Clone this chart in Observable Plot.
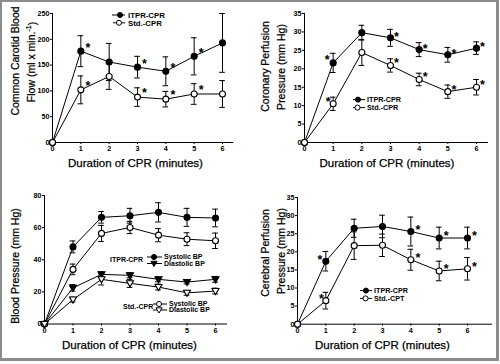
<!DOCTYPE html>
<html><head><meta charset="utf-8">
<script src="https://cdn.jsdelivr.net/npm/d3@7"></script>
<script src="https://cdn.jsdelivr.net/npm/@observablehq/plot@0.6"></script>
<style>
body{margin:0;background:#fff;}
#wrap{position:relative;width:500px;height:364px;overflow:hidden;background:#fff;font-family:"Liberation Sans",Arial,sans-serif;}
#frame{position:absolute;left:0;top:0;width:494px;height:356px;border:2px solid #8c8c8c;border-right-width:3px;border-bottom-width:3px;}
.panel{position:absolute;}
</style></head><body><div id="wrap"><div id="frame"></div></div>
<script>
const minutes = [0, 1, 2, 3, 4, 5, 6];

// Panel A: Common carotid blood flow (ml x min^-1)
const flowITPR    = [0, 177, 156, 146, 138, 167, 193];
const flowITPRErr = [0, 30, 36, 21, 28, 36, 57];
const flowStd     = [0, 102, 128, 88, 84, 94, 94];
const flowStdErr  = [0, 27, 25, 18, 15, 20, 26];
const flowITPRStarsRight = [1, 3, 4, 5];
const flowStdStarsRight  = [1, 3, 4, 5];
const flowTicks = [0, 50, 100, 150, 200, 250];

// Panel B: Coronary perfusion pressure (mm Hg)
const corITPR    = [0, 21.6, 29.8, 28.4, 25.2, 23.8, 25.6];
const corITPRErr = [0, 2.6, 2.0, 2.3, 1.9, 2.0, 1.7];
const corStd     = [0, 10.5, 24.4, 20.9, 17.1, 13.8, 15.0];
const corStdErr  = [0, 1.8, 3.5, 1.8, 1.7, 1.8, 2.1];
const corITPRStarsLeft = [1], corITPRStarsRight = [3, 4, 5, 6];
const corStdStarsLeft  = [1], corStdStarsRight  = [3, 4, 5, 6];
const pressTicks35 = [0, 5, 10, 15, 20, 25, 30, 35];

// Panel C: Blood pressure (mm Hg)
const sysITPR    = [0, 48, 66.4, 67.4, 69.5, 66.4, 66];
const sysITPRErr = [0, 3.7, 3.6, 4.6, 6, 5.6, 5.5];
const diaITPR    = [0, 22.5, 30.9, 30.3, 27.8, 26.1, 27.8];
const diaITPRErr = [0, 2, 1.5, 1.5, 1.5, 1.2, 1.8];
const sysStd     = [0, 34, 56.4, 60.1, 55.3, 52.8, 51.8];
const sysStdErr  = [0, 3.3, 5, 3.8, 4.1, 4, 4.8];
const diaStd     = [0, 15.2, 27.8, 25.3, 23, 19.4, 20.5];
const diaStdErr  = [0, 1.5, 3.5, 2.5, 1.8, 1.5, 1.8];
const bpTicks = [0, 20, 40, 60, 80];

// Panel D: Cerebral perfusion pressure (mm Hg)
const cerITPR    = [0, 17.4, 26.5, 27, 25.6, 23.8, 23.8];
const cerITPRErr = [0, 2.7, 2.5, 3.1, 4, 3, 3];
const cerStd     = [0, 6.5, 21.7, 21.8, 17.8, 14.7, 15.3];
const cerStdErr  = [0, 2.3, 3.8, 3.1, 2.9, 2.7, 3.1];
const cerITPRStarsLeft = [1], cerITPRStarsRight = [4, 5, 6];
const cerStdStarsLeft  = [1], cerStdStarsRight  = [4, 5, 6];

const xTitle = "Duration of CPR (minutes)";

const triDown = {
  draw(ctx, size) {
    const h = Math.sqrt(size) * 1.0;
    ctx.moveTo(0, h * 0.62);
    ctx.lineTo(-h * 0.62, -h * 0.45);
    ctx.lineTo(h * 0.62, -h * 0.45);
    ctx.closePath();
  }
};

function rows(vals, errs) {
  return minutes.map((m, i) => ({x: m, y: vals[i], lo: vals[i] - errs[i], hi: vals[i] + errs[i], e: errs[i]}));
}
function starRows(list, vals) {
  return list.map(m => ({x: m, y: vals[minutes.indexOf(m)]}));
}

function seriesMarks(s) {
  const d = rows(s.vals, s.errs);
  const eb = d.filter(r => r.e > 0);
  return [
    Plot.ruleX(eb, {x: "x", y1: "lo", y2: "hi", stroke: "black", strokeWidth: 1}),
    Plot.ruleY(eb, {y: "hi", x1: r => r.x - 0.1, x2: r => r.x + 0.1, stroke: "black", strokeWidth: 1}),
    Plot.ruleY(eb, {y: "lo", x1: r => r.x - 0.1, x2: r => r.x + 0.1, stroke: "black", strokeWidth: 1}),
    Plot.line(d, {x: "x", y: "y", stroke: "black", strokeWidth: 1})
  ];
}
function dotMarks(s) {
  const d = rows(s.vals, s.errs);
  return Plot.dot(d, {x: "x", y: "y", r: s.sym === "tri" ? 3.2 : 3, symbol: s.sym === "tri" ? triDown : "circle",
    fill: s.filled ? "black" : "white", stroke: "black", strokeWidth: 1.1});
}
function starMarks(list, vals, dx, dy) {
  return Plot.text(starRows(list, vals), {x: "x", y: "y", text: () => "*", dx, dy,
    fontSize: 12.5, fontWeight: "bold", fill: "black", lineAnchor: "middle"});
}

function panel(cfg) {
  const unit = (cfg.x6 - cfg.mL) / 6;
  const right = cfg.x6 + (cfg.xMax - 6) * unit;
  const marks = [];
  cfg.series.forEach(s => marks.push(...seriesMarks(s)));
  marks.push(Plot.ruleY([0], {stroke: "black", strokeWidth: 1}));
  marks.push(Plot.ruleX([0], {stroke: "black", strokeWidth: 1}));
  cfg.series.forEach(s => marks.push(dotMarks(s)));
  (cfg.stars || []).forEach(st => marks.push(starMarks(st.list, st.vals, st.dx, st.dy)));
  const chart = Plot.plot({
    width: 250, height: 182,
    marginLeft: cfg.mL, marginRight: 250 - right, marginTop: cfg.mT, marginBottom: cfg.mB,
    style: {fontFamily: '"Liberation Sans", Arial, sans-serif', fontSize: "7.2px", fontWeight: "bold", background: "transparent", color: "black", overflow: "visible"},
    x: {domain: [0, cfg.xMax], ticks: minutes, tickFormat: d => String(d), tickSize: 2, tickPadding: 1.5, label: null, line: false},
    y: {domain: cfg.yDomain, ticks: cfg.yTicks, tickFormat: d => String(d), tickSize: 2, tickPadding: 1, label: null},
    marks
  });
  chart.classList.add("panel");
  chart.style.left = cfg.left + "px";
  chart.style.top = cfg.top + "px";
  const svg = d3.select(chart);
  const ff = '"Liberation Sans", Arial, sans-serif';
  // x title
  svg.append("text").attr("x", cfg.xt[0]).attr("y", cfg.xt[1]).attr("text-anchor", "middle")
    .attr("font-family", ff).attr("font-size", "11.5px").attr("font-weight", "normal").attr("fill", "black")
    .attr("stroke", "black").attr("stroke-width", 0.25).text(xTitle);
  // y title lines
  cfg.yt.forEach(t => {
    const tx = svg.append("text").attr("transform", `translate(${t.x},${t.y}) rotate(-90)`)
      .attr("dy", "0.35em").attr("text-anchor", "middle").attr("font-family", ff)
      .attr("font-size", "10.5px").attr("font-weight", "normal").attr("fill", "black")
      .attr("stroke", "black").attr("stroke-width", 0.25);
    if (t.sup) {
      tx.append("tspan").text(t.text);
      tx.append("tspan").attr("font-size", "7px").attr("dy", "-0.5em").text(t.sup);
      tx.append("tspan").attr("dy", "0.5em").text(t.after);
    } else tx.text(t.text);
  });
  // legend
  const lf = cfg.legendFont + "px";
  (cfg.legend || []).forEach(l => {
    if (l.label) {
      svg.append("text").attr("x", l.x).attr("y", l.y).attr("dy", "0.35em").attr("text-anchor", "start").attr("font-family", ff)
        .attr("font-size", lf).attr("font-weight", "bold").attr("fill", "black").text(l.label);
      return;
    }
    svg.append("line").attr("x1", l.x1).attr("x2", l.x2).attr("y1", l.y).attr("y2", l.y).attr("stroke", "black").attr("stroke-width", 1);
    const sym = d3.symbol().type(l.sym === "tri" ? triDown : d3.symbolCircle).size(l.sym === "tri" ? 24 : 20)();
    svg.append("path").attr("d", sym).attr("transform", `translate(${l.xm},${l.y})`)
      .attr("fill", l.filled ? "black" : "white").attr("stroke", "black").attr("stroke-width", 1);
    svg.append("text").attr("x", l.tx).attr("y", l.y).attr("dy", "0.35em").attr("text-anchor", "start").attr("font-family", ff)
      .attr("font-size", lf).attr("font-weight", "bold").attr("fill", "black").text(l.text);
  });
  document.getElementById("wrap").appendChild(chart);
}

// Panel A
panel({
  left: 0, top: 0, mL: 52, x6: 222, xMax: 6.4, mT: 13, mB: 40,
  yDomain: [0, 250], yTicks: flowTicks,
  series: [
    {vals: flowITPR, errs: flowITPRErr, sym: "circle", filled: true},
    {vals: flowStd, errs: flowStdErr, sym: "circle", filled: false}
  ],
  stars: [
    {list: flowITPRStarsRight, vals: flowITPR, dx: 7, dy: -3.5},
    {list: flowStdStarsRight, vals: flowStd, dx: 7, dy: -4}
  ],
  xt: [135.5, 167],
  yt: [{x: 15, y: 61, text: "Common Carotid Blood"}, {x: 31, y: 62, text: "Flow (ml x min.", sup: "-1", after: ")"}],
  legendFont: 7.8,
  legend: [
    {x1: 112, x2: 125, xm: 120, y: 15, sym: "circle", filled: true, tx: 128, text: "ITPR-CPR"},
    {x1: 113, x2: 125, xm: 119, y: 22.8, sym: "circle", filled: false, tx: 128, text: "Std.-CPR"}
  ]
});

// Panel B
panel({
  left: 250, top: 0, mL: 54, x6: 226, xMax: 6.42, mT: 13, mB: 40,
  yDomain: [0, 35], yTicks: pressTicks35,
  series: [
    {vals: corITPR, errs: corITPRErr, sym: "circle", filled: true},
    {vals: corStd, errs: corStdErr, sym: "circle", filled: false}
  ],
  stars: [
    {list: corITPRStarsLeft, vals: corITPR, dx: -6, dy: -3},
    {list: corITPRStarsRight, vals: corITPR, dx: 6, dy: -1},
    {list: corStdStarsLeft, vals: corStd, dx: -5, dy: -2},
    {list: corStdStarsRight, vals: corStd, dx: 6, dy: -2}
  ],
  xt: [137, 167],
  yt: [{x: 15, y: 66.5, text: "Coronary Perfusion"}, {x: 31, y: 67, text: "Pressure (mm Hg)"}],
  legendFont: 7.2,
  legend: [
    {x1: 103, x2: 115, xm: 108, y: 99.6, sym: "circle", filled: true, tx: 117, text: "ITPR-CPR"},
    {x1: 103, x2: 115, xm: 107.5, y: 107.6, sym: "circle", filled: false, tx: 117, text: "Std.-CPR"}
  ]
});

// Panel C
panel({
  left: 0, top: 182, mL: 44, x6: 215, xMax: 6.42, mT: 13, mB: 40.5,
  yDomain: [0, 80], yTicks: bpTicks,
  series: [
    {vals: sysITPR, errs: sysITPRErr, sym: "circle", filled: true},
    {vals: diaITPR, errs: diaITPRErr, sym: "tri", filled: true},
    {vals: sysStd, errs: sysStdErr, sym: "circle", filled: false},
    {vals: diaStd, errs: diaStdErr, sym: "tri", filled: false}
  ],
  stars: [],
  xt: [129.5, 167],
  yt: [{x: 15, y: 84, text: "Blood Pressure (mm Hg)"}],
  legendFont: 7,
  legend: [
    {label: "ITPR-CPR", x: 110, y: 78},
    {x1: 147, x2: 162, xm: 154, y: 75, sym: "circle", filled: true, tx: 164, text: "Systolic BP"},
    {x1: 147, x2: 162, xm: 154, y: 81.5, sym: "tri", filled: true, tx: 164, text: "Diastolic BP"},
    {label: "Std.-CPR", x: 123, y: 125},
    {x1: 153, x2: 167, xm: 159, y: 122, sym: "circle", filled: false, tx: 169, text: "Systolic BP"},
    {x1: 153, x2: 167, xm: 159, y: 128, sym: "tri", filled: false, tx: 169, text: "Diastolic BP"}
  ]
});

// Panel D
panel({
  left: 250, top: 182, mL: 47, x6: 217, xMax: 6.88, mT: 15, mB: 40.3,
  yDomain: [0, 35], yTicks: pressTicks35,
  series: [
    {vals: cerITPR, errs: cerITPRErr, sym: "circle", filled: true},
    {vals: cerStd, errs: cerStdErr, sym: "circle", filled: false}
  ],
  stars: [
    {list: cerITPRStarsLeft, vals: cerITPR, dx: -6, dy: -1},
    {list: cerITPRStarsRight, vals: cerITPR, dx: 7, dy: -2},
    {list: cerStdStarsLeft, vals: cerStd, dx: -4.5, dy: -2},
    {list: cerStdStarsRight, vals: cerStd, dx: 7, dy: -2}
  ],
  xt: [132.5, 167],
  yt: [{x: 15, y: 71, text: "Cerebral Perfusion"}, {x: 31, y: 69, text: "Pressure (mm Hg)"}],
  legendFont: 7.2,
  legend: [
    {x1: 110, x2: 122, xm: 116, y: 108.6, sym: "circle", filled: true, tx: 124, text: "ITPR-CPR"},
    {x1: 110, x2: 122, xm: 115.5, y: 116.4, sym: "circle", filled: false, tx: 124, text: "Std.-CPT"}
  ]
});
</script></body></html>
